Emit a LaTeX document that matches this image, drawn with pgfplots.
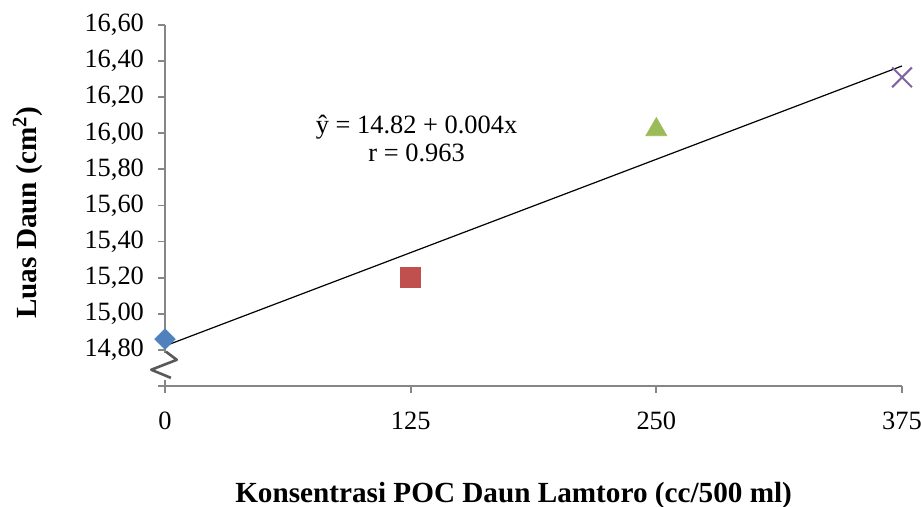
\documentclass[border=0pt]{standalone}
\usepackage{pgfplots}
\pgfplotsset{compat=1.18}
\usepackage{fontspec}
\setmainfont{Liberation Serif}
\definecolor{axgray}{HTML}{868686}
\definecolor{sblue}{HTML}{4F81BD}
\definecolor{sred}{HTML}{C0504D}
\definecolor{sgreen}{HTML}{9BBB59}
\definecolor{spurple}{HTML}{8064A2}
\begin{document}
\begin{tikzpicture}
\begin{axis}[
  scale only axis, width=368.5pt, height=180.5pt,
  xmin=0, xmax=375, ymin=14.6, ymax=16.6,
  axis x line*=bottom, axis y line*=left,
  axis line style={axgray, line width=0.9pt, -},
  xtick={0,125,250,375},
  ytick={14.6,14.8,15.0,15.2,15.4,15.6,15.8,16.0,16.2,16.4,16.6},
  yticklabels={{},{14,80},{15,00},{15,20},{15,40},{15,60},{15,80},{16,00},{16,20},{16,40},{16,60}},
  tick align=outside, major tick length=3.5pt,
  tick style={axgray, line width=0.9pt},
  tick label style={font=\fontsize{13.2}{15}\selectfont},
  xticklabel style={yshift=-6pt},
  yticklabel style={xshift=-3.5pt},
  /pgf/number format/assume math mode=true,
  xlabel={\textbf{Konsentrasi POC Daun Lamtoro (cc/500 ml)}},
  ylabel={\textbf{Luas Daun (cm\textsuperscript{2})}},
  label style={font=\fontsize{14.6}{17}\selectfont},
  xlabel style={at={(axis description cs:0.473,-0.302)}, anchor=center},
  ylabel style={at={(axis description cs:-0.186,0.48)}, anchor=center, rotate=0},
  clip=false,
]
% regression line
\addplot[black, line width=0.6pt, no marks] coordinates {(0,14.822) (375,16.373)};
% break symbol on y axis
\draw[white, line width=3pt] (axis cs:0,14.785) -- (axis cs:0,14.635);
\draw[black!65, line width=1.3pt, line join=round] (axis cs:0.5,14.79) -- (axis cs:6,14.745) -- (axis cs:-7,14.69) -- (axis cs:3,14.645);
% data points
\addplot[only marks, mark=square*, mark size=3.6pt, mark options={rotate=45}, color=sblue] coordinates {(0,14.86)};
\addplot[only marks, mark=square*, mark size=5pt, color=sred] coordinates {(125,15.20)};
\addplot[only marks, mark=triangle*, mark size=6pt, color=sgreen] coordinates {(250,16.02)};
\addplot[only marks, mark=x, mark size=7pt, color=spurple, mark options={line width=1pt}] coordinates {(375,16.31)};
\node[align=center, font=\fontsize{13.2}{14}\selectfont] at (axis cs:128,15.97) {ŷ = 14.82 + 0.004x\\r = 0.963};
\end{axis}
\pgfresetboundingbox
\path ([shift={(-82.5pt,-60.5pt)}]current axis.south west) rectangle ([shift={(378pt,193pt)}]current axis.south west);
\end{tikzpicture}
\end{document}
